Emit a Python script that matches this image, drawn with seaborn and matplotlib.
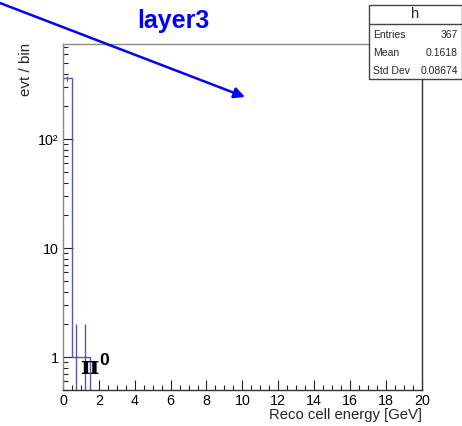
import numpy as np
import matplotlib
matplotlib.use("Agg")
import matplotlib.pyplot as plt
import seaborn as sns
from matplotlib.patches import Rectangle
from matplotlib.lines import Line2D
from matplotlib.ticker import FixedLocator, LogLocator, NullFormatter, MultipleLocator

# ---- data ----
bin_edges = [0.0, 0.5, 1.0, 1.5, 2.0]
bin_centers = [0.25, 0.75, 1.25]
bin_counts = [365, 1, 1]
x_ticks = [0, 2, 4, 6, 8, 10, 12, 14, 16, 18, 20]
y_ticks = [1, 10, 100]
y_tick_labels = ["1", "10", "10²"]
stats_names = ["Entries", "Mean", "Std Dev"]
stats_values = ["367", "0.1618", "0.08674"]
title = "layer3"
hist_name = "h"
particle_label = r"$\pi^{\mathbf{0}}$"

W, H = 462, 426
sns.set_style("white")
plt.rcParams["font.family"] = ["Liberation Sans", "DejaVu Sans"]
plt.rcParams["mathtext.fontset"] = "custom"
plt.rcParams["mathtext.rm"] = "DejaVu Serif:bold"
plt.rcParams["mathtext.it"] = "DejaVu Serif:bold"
plt.rcParams["mathtext.bf"] = "Liberation Sans:bold"

fig = plt.figure(figsize=(W / 100, H / 100), dpi=100)
ax = fig.add_axes([63 / W, 1 - 390 / H, (421.7 - 63) / W, (390 - 44) / H])

hcol = "#5858a8"
sns.histplot(x=bin_centers, weights=bin_counts, bins=bin_edges, element="step",
             fill=False, color=hcol, linewidth=1.0, ax=ax)
ax.errorbar(bin_centers, bin_counts, yerr=np.sqrt(bin_counts), fmt="none",
            ecolor=hcol, elinewidth=1.0, capsize=0)

ax.set_yscale("log")
ax.set_xlim(0, 20)
ax.set_ylim(0.5, 748)
ax.set_xlabel("")
ax.set_ylabel("")

ax.xaxis.set_major_locator(FixedLocator(x_ticks))
ax.xaxis.set_minor_locator(MultipleLocator(0.5))
ax.set_xticklabels([str(t) for t in x_ticks])
ax.yaxis.set_major_locator(FixedLocator(y_ticks))
ax.yaxis.set_minor_locator(LogLocator(base=10, subs=np.arange(2, 10)))
ax.yaxis.set_minor_formatter(NullFormatter())
ax.set_yticklabels(y_tick_labels)

ax.tick_params(axis="both", which="both", direction="in", colors="#222222",
               labelsize=10.3, width=0.8, bottom=True, left=True,
               top=False, right=False)
ax.tick_params(axis="both", which="major", length=7.5)
ax.tick_params(axis="both", which="minor", length=3.8)
ax.tick_params(axis="x", which="major", pad=3)
ax.tick_params(axis="y", which="major", pad=3)
for lab in ax.get_xticklabels() + ax.get_yticklabels():
    lab.set_color("black")

for side, c in [("left", "#8a8a8a"), ("top", "#8a8a8a"),
                ("bottom", "#333333"), ("right", "#333333")]:
    ax.spines[side].set_visible(True)
    ax.spines[side].set_color(c)
    ax.spines[side].set_linewidth(1.0)

# labels
fig.text(421.7 / W, 1 - 419.5 / H, "Reco cell energy [GeV]", ha="right",
         va="baseline", fontsize=10.7)
fig.text(26 / W, 1 - 43 / H, "evt / bin", rotation=90, ha="center", va="top",
         fontsize=10.9)
fig.text(173 / W, 1 - 28 / H, title, ha="center", va="baseline",
         fontsize=18, fontweight="bold", color="#0000ff")

# pi0 annotation
fig.text(80 / W, 1 - 375 / H, particle_label, ha="left", va="baseline",
         fontsize=18, color="black")

# arrow
ax.annotate("", xy=(245, H - 97), xycoords="figure pixels",
            xytext=(0, H - 3), textcoords="figure pixels",
            arrowprops=dict(arrowstyle="-|>", color="#0000ff", lw=1.8,
                            mutation_scale=16, shrinkA=0, shrinkB=0),
            annotation_clip=False)

# stats box
bx0, bx1, by0, by1, bhead = 368.5, 461.5, 5, 79, 24
fig.add_artist(Rectangle((bx0 / W, 1 - by1 / H), (bx1 - bx0) / W, (by1 - by0) / H,
                         transform=fig.transFigure, facecolor="white",
                         edgecolor="#444444", lw=1.0, zorder=5))
fig.add_artist(Line2D([bx0 / W, bx1 / W], [1 - bhead / H, 1 - bhead / H],
                      transform=fig.transFigure, color="#444444", lw=1.0, zorder=6))
fig.text((bx0 + bx1) / 2 / W, 1 - 14.5 / H, hist_name, ha="center", va="center",
         fontsize=10.5, zorder=7)
row_y = [34.5, 53, 71]
for name, val, yy in zip(stats_names, stats_values, row_y):
    fig.text(373 / W, 1 - yy / H, name, ha="left", va="center", fontsize=7.5, zorder=7)
    fig.text(458 / W, 1 - yy / H, val, ha="right", va="center", fontsize=7.5, zorder=7)

fig.savefig("out.png", dpi=100)
